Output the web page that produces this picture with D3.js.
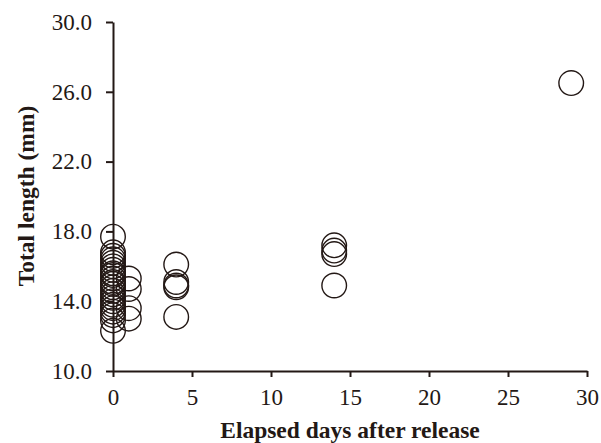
<!DOCTYPE html>
<html>
<head>
<meta charset="utf-8">
<script src="https://cdn.jsdelivr.net/npm/d3@7"></script>
<style>
  html, body { margin: 0; padding: 0; background: #fff; }
  svg { display: block; }
  svg text { font-family: "Times New Roman", "Liberation Serif", serif; }
</style>
</head>
<body>
<svg id="chart" width="601" height="443"></svg>
<script>
// Elapsed days after release for each measured fish
const days = [
  0, 0, 0, 0, 0, 0, 0, 0, 0, 0, 0, 0, 0, 0, 0, 0, 0, 0, 0, 0, 0, 0, 0,
  1, 1, 1, 1,
  4, 4, 4, 4, 4,
  14, 14, 14, 14,
  29
];
// Total length (mm) of each fish
const lengths = [
  17.7, 16.8, 16.6, 16.4, 16.2, 16.0, 15.8, 15.6, 15.5, 15.3, 15.1, 15.0,
  14.8, 14.6, 14.4, 14.2, 14.0, 13.8, 13.6, 13.4, 13.2, 12.9, 12.3,
  15.3, 14.7, 13.6, 13.0,
  16.1, 15.1, 14.9, 14.8, 13.1,
  17.2, 16.9, 16.7, 14.9,
  26.5
];
const xTicks = [0, 5, 10, 15, 20, 25, 30];
const yTicks = [10, 14, 18, 22, 26, 30];

const ink = "#231815";
const svg = d3.select("#chart");

const x = d3.scaleLinear().domain([0, 30]).range([113, 587]);
const y = d3.scaleLinear().domain([10, 30]).range([371, 22]);

// x axis
const gx = svg.append("g")
  .attr("transform", `translate(0,${y(10)})`)
  .call(d3.axisBottom(x).tickValues(xTicks).tickSize(6).tickPadding(12).tickSizeOuter(0))
  .attr("font-family", null);
gx.select(".domain").attr("stroke", ink).attr("stroke-width", 2);
gx.selectAll(".tick line").attr("stroke", ink).attr("stroke-width", 2);
gx.selectAll(".tick text").attr("fill", ink).style("font-size", "23px");

// y axis
const gy = svg.append("g")
  .attr("transform", `translate(${x(0)},0)`)
  .call(d3.axisLeft(y).tickValues(yTicks).tickSize(7).tickPadding(14)
    .tickSizeOuter(0).tickFormat(d3.format(".1f")))
  .attr("font-family", null);
gy.select(".domain").attr("stroke", ink).attr("stroke-width", 2);
gy.selectAll(".tick line").attr("stroke", ink).attr("stroke-width", 2);
gy.selectAll(".tick text").attr("fill", ink).style("font-size", "23px");

// points
svg.append("g")
  .selectAll("circle")
  .data(days.map((d, i) => ({ d, v: lengths[i] })))
  .join("circle")
  .attr("cx", p => x(p.d))
  .attr("cy", p => y(p.v))
  .attr("r", 12.3)
  .attr("fill", "none")
  .attr("stroke", ink)
  .attr("stroke-width", 1.4);

// axis titles
svg.append("text")
  .attr("x", x(15))
  .attr("y", 438)
  .attr("text-anchor", "middle")
  .attr("fill", ink)
  .style("font-size", "23.5px")
  .style("font-weight", "bold")
  .text("Elapsed days after release");

svg.append("text")
  .attr("transform", `translate(34,196) rotate(-90)`)
  .attr("text-anchor", "middle")
  .attr("fill", ink)
  .style("font-size", "23.5px")
  .style("font-weight", "bold")
  .text("Total length (mm)");
</script>
</body>
</html>
